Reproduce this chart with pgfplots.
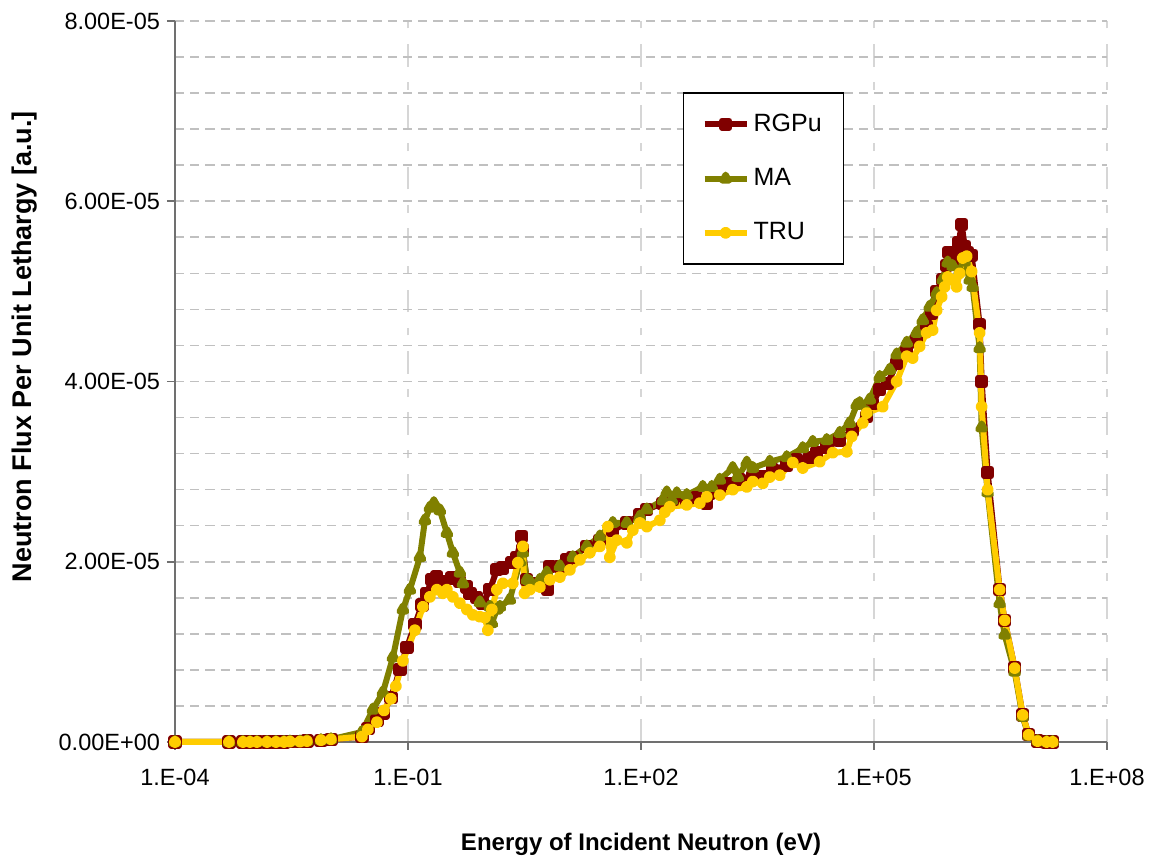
\documentclass[border=0pt]{standalone}
\usepackage{fontspec}
\setmainfont{Liberation Sans}
\usepackage{pgfplots}
\pgfplotsset{compat=1.18}
\usepackage{pgfplotstable}
\definecolor{rgpu}{HTML}{800000}
\definecolor{ma}{HTML}{808000}
\definecolor{tru}{HTML}{FFCC00}
\definecolor{gridc}{HTML}{C0C0C0}
\definecolor{vgridc}{HTML}{D6D6D6}
\definecolor{axc}{HTML}{707070}

% x = log10(E / eV), y = flux per unit lethargy
\pgfplotstableread{
x y
-4.000 0
-3.305 0
-3.125 0
-3.035 0
-2.945 0
-2.816 0
-2.700 0
-2.597 0
-2.520 0.005e-5
-2.391 0.005e-5
-2.301 0.01e-5
-2.121 0.02e-5
-1.992 0.03e-5
-1.593 0.06e-5
-1.516 0.15e-5
-1.400 0.24e-5
-1.323 0.32e-5
-1.220 0.49e-5
-1.104 0.80e-5
-1.014 1.05e-5
-0.911 1.30e-5
-0.821 1.52e-5
-0.757 1.65e-5
-0.692 1.80e-5
-0.628 1.83e-5
-0.551 1.78e-5
-0.435 1.82e-5
-0.332 1.78e-5
-0.242 1.72e-5
-0.203 1.65e-5
-0.113 1.60e-5
-0.036 1.54e-5
0.054 1.69e-5
0.144 1.91e-5
0.221 1.93e-5
0.337 1.99e-5
0.402 2.05e-5
0.466 2.28e-5
0.479 2.13e-5
0.530 1.80e-5
0.607 1.76e-5
0.698 1.76e-5
0.800 1.69e-5
0.826 1.95e-5
0.955 1.95e-5
1.045 2.02e-5
1.122 2.05e-5
1.302 2.17e-5
1.470 2.24e-5
1.637 2.35e-5
1.817 2.43e-5
1.985 2.52e-5
2.075 2.58e-5
2.281 2.65e-5
2.409 2.69e-5
2.589 2.69e-5
2.718 2.71e-5
2.847 2.65e-5
2.885 2.76e-5
3.014 2.83e-5
3.143 2.87e-5
3.272 2.91e-5
3.439 2.94e-5
3.568 2.94e-5
3.696 3.02e-5
3.876 3.07e-5
4.005 3.13e-5
4.172 3.16e-5
4.263 3.21e-5
4.391 3.27e-5
4.559 3.35e-5
4.726 3.46e-5
4.906 3.61e-5
4.983 3.76e-5
5.073 3.91e-5
5.176 3.98e-5
5.292 4.20e-5
5.421 4.33e-5
5.549 4.46e-5
5.678 4.61e-5
5.743 4.76e-5
5.807 5.00e-5
5.884 5.13e-5
5.936 5.29e-5
5.961 5.43e-5
6.013 5.32e-5
6.064 5.39e-5
6.090 5.54e-5
6.129 5.74e-5
6.167 5.50e-5
6.206 5.43e-5
6.257 5.40e-5
6.360 4.63e-5
6.386 4.00e-5
6.463 2.99e-5
6.618 1.69e-5
6.682 1.35e-5
6.811 0.82e-5
6.914 0.30e-5
6.991 0.08e-5
7.107 0.01e-5
7.223 0
7.300 0
}\rgpudata

\pgfplotstableread{
x y
-4.000 0
-3.305 0
-3.125 0
-3.035 0
-2.945 0
-2.816 0
-2.700 0
-2.597 0
-2.520 0.005e-5
-2.391 0.005e-5
-2.301 0.01e-5
-2.121 0.02e-5
-1.992 0.03e-5
-1.593 0.11e-5
-1.452 0.36e-5
-1.323 0.55e-5
-1.194 0.94e-5
-1.066 1.47e-5
-0.976 1.69e-5
-0.847 2.05e-5
-0.782 2.46e-5
-0.718 2.60e-5
-0.667 2.65e-5
-0.589 2.57e-5
-0.499 2.32e-5
-0.422 2.10e-5
-0.332 1.88e-5
-0.293 1.76e-5
-0.075 1.55e-5
0.054 1.50e-5
0.080 1.32e-5
0.144 1.47e-5
0.183 1.50e-5
0.311 1.58e-5
0.440 2.00e-5
0.479 2.10e-5
0.530 1.80e-5
0.569 1.78e-5
0.698 1.80e-5
0.788 1.88e-5
0.955 1.95e-5
1.122 2.05e-5
1.302 2.17e-5
1.470 2.28e-5
1.637 2.43e-5
1.817 2.43e-5
1.985 2.50e-5
2.075 2.58e-5
2.281 2.68e-5
2.332 2.77e-5
2.396 2.68e-5
2.461 2.76e-5
2.589 2.74e-5
2.795 2.83e-5
2.911 2.83e-5
3.014 2.91e-5
3.181 3.04e-5
3.246 2.94e-5
3.362 3.10e-5
3.439 3.04e-5
3.658 3.11e-5
3.876 3.16e-5
4.082 3.26e-5
4.211 3.33e-5
4.391 3.35e-5
4.559 3.43e-5
4.687 3.54e-5
4.777 3.74e-5
4.816 3.76e-5
4.906 3.66e-5
4.945 3.80e-5
5.073 4.05e-5
5.202 4.13e-5
5.292 4.30e-5
5.421 4.43e-5
5.549 4.54e-5
5.627 4.68e-5
5.717 4.83e-5
5.807 4.98e-5
5.884 5.13e-5
5.949 5.32e-5
6.013 5.28e-5
6.103 5.22e-5
6.167 5.33e-5
6.232 5.13e-5
6.270 5.05e-5
6.360 4.37e-5
6.386 3.49e-5
6.463 2.77e-5
6.618 1.54e-5
6.682 1.19e-5
6.811 0.78e-5
6.914 0.28e-5
6.991 0.07e-5
7.107 0.01e-5
7.223 0
7.300 0
}\madata

\pgfplotstableread{
x y
-4.000 0
-3.305 0
-3.125 0
-3.035 0
-2.945 0
-2.816 0
-2.700 0
-2.597 0
-2.520 0.005e-5
-2.391 0.005e-5
-2.301 0.01e-5
-2.121 0.02e-5
-1.992 0.03e-5
-1.593 0.06e-5
-1.516 0.14e-5
-1.400 0.22e-5
-1.310 0.35e-5
-1.220 0.48e-5
-1.156 0.62e-5
-1.066 0.90e-5
-0.911 1.24e-5
-0.808 1.50e-5
-0.718 1.61e-5
-0.628 1.69e-5
-0.551 1.65e-5
-0.499 1.69e-5
-0.422 1.61e-5
-0.332 1.54e-5
-0.242 1.47e-5
-0.165 1.41e-5
-0.075 1.39e-5
-0.010 1.38e-5
0.028 1.24e-5
0.080 1.47e-5
0.144 1.69e-5
0.221 1.76e-5
0.350 1.76e-5
0.414 1.99e-5
0.479 2.17e-5
0.500 1.65e-5
0.569 1.69e-5
0.698 1.72e-5
0.826 1.80e-5
0.955 1.83e-5
1.084 1.91e-5
1.212 2.02e-5
1.341 2.10e-5
1.470 2.17e-5
1.573 2.39e-5
1.598 2.05e-5
1.689 2.24e-5
1.817 2.21e-5
1.894 2.35e-5
1.985 2.43e-5
2.075 2.39e-5
2.242 2.46e-5
2.306 2.55e-5
2.371 2.61e-5
2.589 2.63e-5
2.757 2.65e-5
2.847 2.72e-5
3.014 2.74e-5
3.181 2.80e-5
3.362 2.83e-5
3.439 2.89e-5
3.568 2.87e-5
3.658 2.94e-5
3.786 2.96e-5
3.954 3.10e-5
4.082 3.04e-5
4.301 3.11e-5
4.468 3.21e-5
4.649 3.22e-5
4.713 3.39e-5
4.855 3.54e-5
4.906 3.65e-5
5.112 3.72e-5
5.292 4.00e-5
5.421 4.28e-5
5.498 4.26e-5
5.588 4.39e-5
5.678 4.54e-5
5.755 4.57e-5
5.807 4.79e-5
5.871 4.94e-5
5.910 5.05e-5
5.949 5.16e-5
6.000 5.13e-5
6.064 5.05e-5
6.103 5.20e-5
6.142 5.37e-5
6.193 5.39e-5
6.257 5.22e-5
6.360 4.54e-5
6.386 3.72e-5
6.463 2.80e-5
6.618 1.69e-5
6.682 1.35e-5
6.811 0.82e-5
6.914 0.30e-5
6.991 0.08e-5
7.107 0.01e-5
7.223 0
7.300 0
}\trudata

\begin{document}
\begin{tikzpicture}
\useasboundingbox (-87.5pt,-59pt) rectangle (490pt,371pt);
\begin{axis}[
  scale only axis, width=466pt, height=360.5pt,
  at={(0pt,0pt)}, anchor=south west,
  xmin=-4, xmax=8, ymin=0, ymax=8e-5,
  clip=false,
  axis lines*=left,
  axis line style={axc, line width=1pt},
  xtick={-4,-1,2,5,8},
  xticklabels={1.E-04,1.E-01,1.E+02,1.E+05,1.E+08},
  ytick={0,2e-5,4e-5,6e-5,8e-5},
  yticklabels={0.00E+00,2.00E-05,4.00E-05,6.00E-05,8.00E-05},
  scaled y ticks=false,
  minor ytick={0.4e-5,0.8e-5,1.2e-5,1.6e-5,2.4e-5,2.8e-5,3.2e-5,3.6e-5,4.4e-5,4.8e-5,5.2e-5,5.6e-5,6.4e-5,6.8e-5,7.2e-5,7.6e-5},
  tick align=outside, major tick length=4pt, minor tick length=0pt,
  tick style={axc, line width=0.8pt},
  xmajorgrids, ymajorgrids, yminorgrids,
  x grid style={vgridc, line width=1pt, dash pattern=on 11.3pt off 7.8pt on 3.9pt off 7.7pt},
  y grid style={gridc, line width=0.8pt, dash pattern=on 4.6pt off 3.0pt},
  tick label style={font=\fontsize{11.75}{14}\selectfont, black},
  xticklabel style={yshift=-6pt},
  xlabel={Energy of Incident Neutron (eV)},
  ylabel={Neutron Flux Per Unit Lethargy [a.u.]},
  xlabel style={font=\bfseries\fontsize{12}{14}\selectfont, at={(axis description cs:0.5,-0.142)}, anchor=center},
  ylabel style={font=\bfseries\fontsize{13.5}{16}\selectfont, at={(axis description cs:-0.161,0.548)}, anchor=center},
  legend style={at={(0.545,0.901)}, anchor=north west, draw=black, line width=0.7pt,
    font=\fontsize{12.5}{15}\selectfont, row sep=13pt, inner xsep=9pt, inner ysep=8.5pt},
  legend cell align=left,
  legend image code/.code={\draw[mark repeat=2,mark phase=2,#1] plot coordinates {(0pt,0pt) (10.5pt,0pt) (21pt,0pt)};},
]
\addplot[rgpu, line width=3pt, line join=round, mark=square*, mark size=1.8pt, mark options={solid}] table[x=x,y=y] {\rgpudata};
\addlegendentry{RGPu}
\addplot[ma, line width=3pt, line join=round, mark=triangle*, mark size=2pt, mark options={solid}] table[x=x,y=y] {\madata};
\addlegendentry{MA}
\addplot[tru, line width=3pt, line join=round, mark=*, mark size=1.5pt, mark options={solid}] table[x=x,y=y] {\trudata};
\addlegendentry{TRU}
\end{axis}
\end{tikzpicture}
\end{document}
